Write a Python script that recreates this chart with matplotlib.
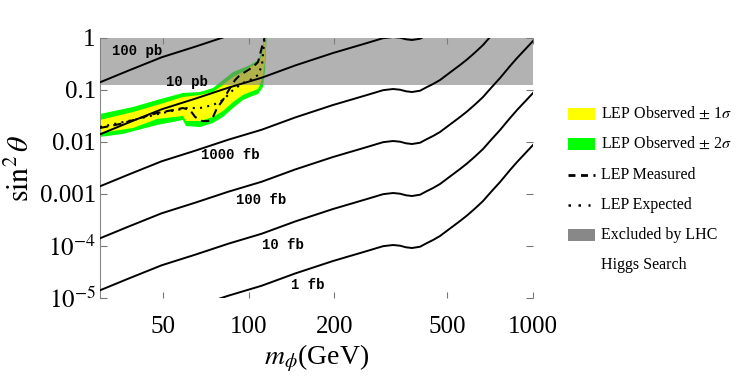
import numpy as np
import matplotlib
matplotlib.use("Agg")
import matplotlib.pyplot as plt
from matplotlib.patches import Rectangle
from matplotlib.lines import Line2D

plt.rcParams['font.family'] = ['Liberation Serif', 'DejaVu Serif']
plt.rcParams['mathtext.fontset'] = 'stix'

# ---- contour base curve: sin^2(theta) giving sigma = 100 fb ----
m_curve = [30, 37.7, 49.4, 64.8, 84.8, 111.2, 145.6, 198.0, 260.8, 296.8, 321.9, 340.7, 357.6,
           375.5, 400.6, 423.9, 445.2, 471.0, 510.6, 553.9, 586.1, 625.3, 667.3, 706.3, 765.8,
           830.4, 878.9, 1000]
s_100fb = [1.406e-4, 2.350e-4, 4.254e-4, 6.80e-4, 1.107e-3, 1.724e-3, 2.960e-3, 5.146e-3, 8.015e-3,
           9.91e-3, 1.045e-2, 1.013e-2, 9.44e-3, 9.15e-3, 9.69e-3, 1.142e-2, 1.304e-2, 1.557e-2,
           2.170e-2, 3.026e-2, 3.859e-2, 5.263e-2, 7.335e-2, 0.1045, 0.1701, 0.2894, 0.4125, 0.8754]
levels_fb = [1, 10, 100, 1000, 10000, 100000]
level_labels = ['1 fb', '10 fb', '100 fb', '1000 fb', '10 pb', '100 pb']
label_m = [161.7, 132.1, 110.5, 86.0, 60.7, 40.5]
label_s = [1.778e-5, 1.045e-4, 7.66e-4, 5.62e-3, 0.1425, 0.562]

# ---- LEP bands ----
g_up_m = [30, 39.2, 47.6, 58.7, 67.4, 74.9, 81.2, 88.1, 95.5, 101.1, 107.9, 111.4, 113.3]
g_up_s = [0.0346, 0.0471, 0.0642, 0.0876, 0.0915, 0.1093, 0.1557, 0.2219, 0.2649, 0.3025, 0.3776,
          0.538, 1.0]
g_lo_m = [30, 36.1, 47.6, 58.7, 60.2, 67.4, 74.9, 81.2, 88.1, 95.5, 101.1, 107.9, 112.3, 114.2, 115.6]
g_lo_s = [0.0125, 0.0143, 0.0212, 0.0265, 0.0203, 0.0194, 0.0232, 0.0303, 0.0450, 0.0642, 0.0733,
          0.0838, 0.1142, 0.2424, 1.0]
y_up_m = [30, 39.2, 47.6, 58.7, 67.4, 74.9, 81.2, 88.1, 95.5, 101.1, 107.9, 111.4, 113.7]
y_up_s = [0.0265, 0.0378, 0.0514, 0.0733, 0.0801, 0.0915, 0.1248, 0.1778, 0.2219, 0.2769, 0.3305,
          0.471, 1.0]
y_lo_m = [30, 39.2, 47.6, 58.7, 60.2, 67.4, 74.9, 81.2, 88.1, 95.5, 101.1, 107.9, 112.3, 114.2, 115.1]
y_lo_s = [0.0149, 0.0186, 0.0277, 0.0316, 0.0253, 0.0253, 0.0303, 0.0395, 0.0588, 0.0801, 0.0915,
          0.1045, 0.1778, 0.3776, 1.0]
meas_m = [30, 35.3, 41.5, 47.6, 54.2, 58.7, 62.2, 64.8, 68.6, 72.0, 74.9, 77.4, 81.2, 86.0, 89.6,
          93.2, 97.1, 103.6, 107.9, 112.3, 113.7]
meas_s = [0.0186, 0.0222, 0.0289, 0.0361, 0.0412, 0.0450, 0.0412, 0.0303, 0.0253, 0.0253, 0.0303,
          0.0450, 0.0642, 0.1093, 0.1557, 0.1943, 0.2219, 0.2769, 0.3455, 0.801, 1.0]
exp_m = [30, 39.2, 51.6, 60.7, 67.4, 74.9, 81.2, 88.1, 95.5, 101.1, 107.9, 111.4, 113.7]
exp_s = [0.0194, 0.0265, 0.0378, 0.0450, 0.0450, 0.0514, 0.0642, 0.1, 0.1364, 0.1557, 0.1943,
         0.3025, 1.0]

lhc_lo, lhc_hi = 0.125, 1.0

xticks = [50, 100, 200, 500, 1000]
xticklabels = ['50', '100', '200', '500', '1000']
yticks = [1e-5, 1e-4, 1e-3, 1e-2, 0.1, 1]
yticklabels = [r'$10^{-5}$', r'$10^{-4}$', '0.001', '0.01', '0.1', '1']

fig = plt.figure(figsize=(7.41, 3.82), dpi=100)
ax = fig.add_axes([100/741, 84/382, 433/741, 260/382])
ax.set_xscale('log')
ax.set_yscale('log')
ax.set_xlim(30, 1000)
ax.set_ylim(1e-5, 1)

YEL = '#ffff00'
GRN = '#00ff00'
ax.fill(g_up_m + g_lo_m[::-1], g_up_s + g_lo_s[::-1], color=GRN, lw=0, zorder=1)
ax.fill(y_up_m + y_lo_m[::-1], y_up_s + y_lo_s[::-1], color=YEL, lw=0, zorder=2)
ax.axhspan(lhc_lo, lhc_hi, color='#808080', alpha=0.6, lw=0, zorder=3)
ax.plot(meas_m, meas_s, color='black', lw=1.5, dashes=(4, 2.5), zorder=4)
ax.plot(exp_m, exp_s, color='black', lw=1.5, dashes=(1, 2.5), zorder=4)

base = np.array(s_100fb)
for lev in levels_fb:
    ax.plot(m_curve, base * lev / 100.0, color='black', lw=1.4, zorder=5,
            solid_joinstyle='round')
for t, xm, ys in zip(level_labels, label_m, label_s):
    ax.text(xm, ys, t, family='Liberation Mono', fontsize=10, fontweight='bold',
            ha='center', va='center', zorder=6)

ax.set_xticks(xticks)
ax.set_xticklabels(xticklabels)
ax.xaxis.set_minor_locator(matplotlib.ticker.NullLocator())
ax.set_yticks(yticks)
ax.set_yticklabels(yticklabels)
ax.tick_params(axis='both', which='both', direction='in', colors='#777777', labelcolor='black',
               labelsize=18, top=True, right=True)
ax.tick_params(axis='x', which='major', length=4, pad=13)
ax.tick_params(axis='y', which='major', length=5, pad=3)
ax.tick_params(axis='y', which='minor', length=2.5)
for side in ['top', 'right', 'bottom']:
    ax.spines[side].set_visible(False)
ax.spines['left'].set_color('#888888')

ax.set_xlabel(r'$m_\phi$(GeV)', fontsize=20, labelpad=3)
ax.set_ylabel(r'$\sin^2\theta$', fontsize=21.5, labelpad=3)

# ---- legend ----
lg = fig.add_axes([0, 0, 1, 1])
lg.set_xlim(0, 741)
lg.set_ylim(382, 0)
lg.axis('off')
entries = ['LEP Observed $\\pm$ 1$\\sigma$', 'LEP Observed $\\pm$ 2$\\sigma$', 'LEP Measured',
           'LEP Expected', 'Excluded by LHC', 'Higgs Search']
rows = [114, 144, 175, 205, 235, 265]
lg.add_patch(Rectangle((568, rows[0]-6), 27, 12, color=YEL, lw=0))
lg.add_patch(Rectangle((568, rows[1]-6), 27, 12, color=GRN, lw=0))
lg.add_line(Line2D([568, 595], [rows[2], rows[2]], color='black', lw=2, dashes=(2.5, 2)))
lg.add_line(Line2D([568, 590], [rows[3], rows[3]], color='black', lw=1.8, dashes=(1, 3)))
lg.add_patch(Rectangle((568, rows[4]-6), 27, 12, color='#888888', lw=0))
for t, r in zip(entries, rows):
    lg.text(601, r, t, fontsize=11.5, ha='left', va='center')

fig.savefig('out.png', dpi=100)
